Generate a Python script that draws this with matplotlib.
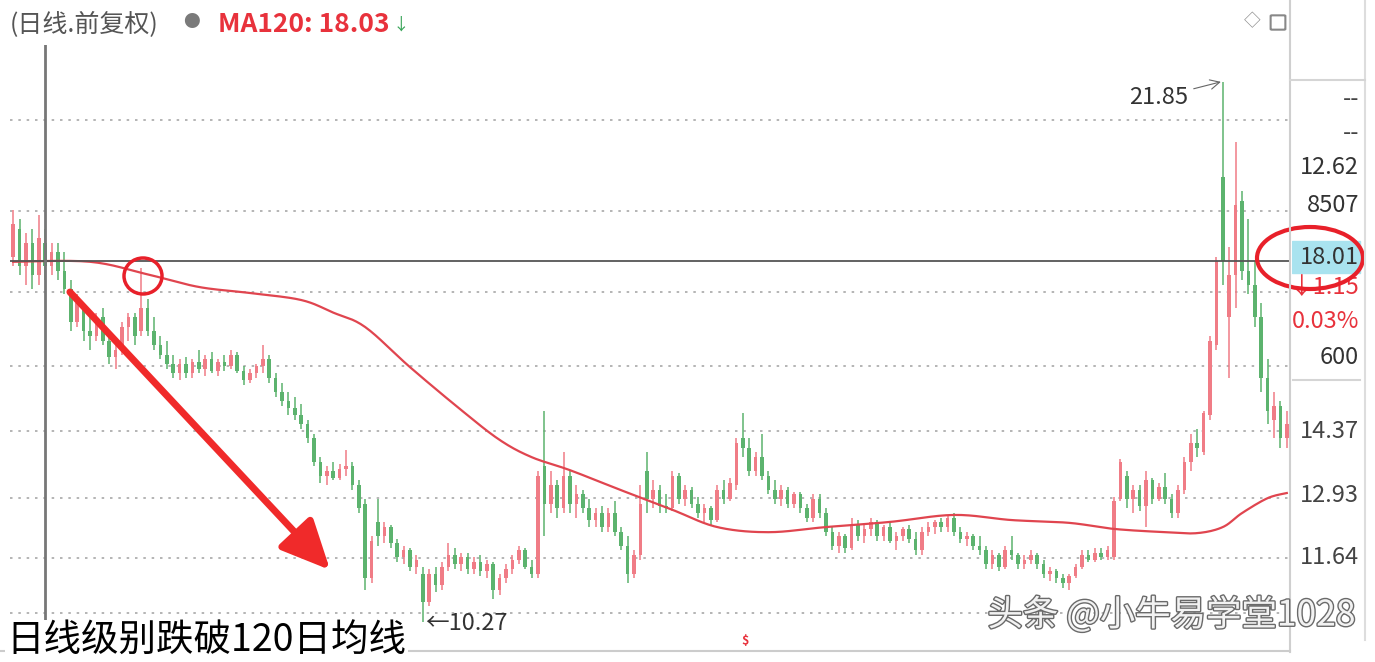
import numpy as np
import matplotlib.pyplot as plt
import matplotlib.patheffects as pe
from matplotlib.patches import Ellipse, Rectangle, FancyBboxPatch
from matplotlib.lines import Line2D

plt.rcParams['font.family'] = ['Noto Sans CJK SC', 'DejaVu Sans']

# daily candles (price, forward adjusted)
opens = [
    18.10, 18.70, 17.90, 18.40, 17.70, 18.40, 17.90, 18.20, 17.80, 17.40,
    16.70, 17.00, 16.50, 16.40, 16.80, 16.30, 15.95, 16.10, 16.60, 16.80,
    16.50, 17.00, 16.50, 16.20, 16.00, 15.80, 15.60, 15.80, 15.60, 15.85,
    15.70, 15.90, 15.65, 15.85, 15.75, 16.00, 15.65, 15.45, 15.60, 15.75,
    15.90, 15.50, 15.20, 15.00, 14.85, 14.70, 14.50, 14.20, 13.70, 13.40,
    13.50, 13.35, 13.55, 13.60, 13.20, 12.80, 11.20, 12.40, 12.10, 12.30,
    11.95, 11.65, 11.80, 11.45, 11.30, 10.70, 11.30, 11.05, 11.45, 11.70,
    11.50, 11.65, 11.40, 11.55, 11.35, 11.50, 10.95, 11.20, 11.40, 11.60,
    11.80, 11.45, 11.30, 13.60, 12.80, 13.20, 12.70, 13.40, 12.80, 13.00,
    12.70, 12.45, 12.60, 12.30, 12.60, 12.20, 11.90, 11.30, 11.70, 13.50,
    12.90, 13.10, 12.75, 12.70, 13.40, 12.90, 13.10, 12.80, 12.60, 12.70,
    12.45, 13.10, 12.90, 13.20, 14.20, 14.00, 13.50, 13.80, 13.40, 13.10,
    12.90, 13.10, 12.80, 13.00, 12.70, 12.50, 12.90, 12.60, 12.20, 11.90,
    12.10, 11.85, 12.35, 12.10, 12.25, 12.40, 12.10, 12.30, 12.00, 12.10,
    12.25, 12.05, 11.80, 12.20, 12.30, 12.40, 12.30, 12.50, 12.20, 12.05,
    12.10, 11.90, 11.80, 11.50, 11.70, 11.45, 11.80, 11.70, 11.50, 11.60,
    11.70, 11.50, 11.30, 11.35, 11.20, 11.10, 11.25, 11.45, 11.70, 11.60,
    11.75, 11.65, 11.65, 12.90, 13.40, 12.90, 13.10, 12.75, 13.30, 12.90,
    13.15, 12.90, 12.60, 13.10, 13.70, 14.10, 13.90, 14.70, 16.20, 19.80,
    16.80, 17.70, 19.30, 17.80, 17.50, 16.80, 15.50, 14.60, 14.90, 14.20,
]
highs = [
    19.10, 18.90, 18.60, 18.70, 19.00, 18.70, 18.40, 18.40, 18.20, 17.60,
    17.30, 17.10, 16.80, 16.90, 17.00, 16.50, 16.20, 16.70, 16.90, 16.90,
    17.85, 17.20, 16.80, 16.40, 16.30, 16.00, 15.90, 15.95, 15.90, 16.10,
    16.00, 16.05, 15.90, 16.00, 16.10, 16.05, 15.75, 15.70, 15.80, 16.20,
    16.00, 15.60, 15.40, 15.20, 15.10, 14.95, 14.60, 14.30, 13.80, 13.60,
    13.70, 13.65, 13.95, 13.70, 13.30, 12.90, 12.10, 12.90, 12.40, 12.35,
    12.05, 11.90, 11.85, 11.70, 11.45, 11.40, 11.45, 11.55, 11.95, 11.85,
    11.75, 11.75, 11.65, 11.70, 11.60, 11.55, 11.30, 11.50, 11.70, 11.90,
    11.85, 11.60, 13.50, 14.80, 13.50, 13.30, 13.90, 13.50, 13.20, 13.10,
    12.90, 12.70, 12.75, 12.70, 12.85, 12.30, 12.10, 11.80, 13.20, 13.90,
    13.30, 13.20, 13.00, 13.50, 13.45, 13.20, 13.15, 12.95, 12.80, 12.75,
    13.20, 13.30, 13.35, 14.20, 14.75, 14.20, 13.90, 14.30, 13.50, 13.30,
    13.20, 13.15, 13.05, 13.05, 12.80, 13.00, 13.00, 12.70, 12.30, 12.20,
    12.15, 12.50, 12.45, 12.35, 12.50, 12.45, 12.35, 12.40, 12.20, 12.30,
    12.35, 12.20, 12.30, 12.40, 12.45, 12.50, 12.55, 12.60, 12.30, 12.20,
    12.15, 12.10, 11.90, 11.80, 11.75, 11.90, 12.10, 11.75, 11.70, 11.80,
    11.75, 11.60, 11.45, 11.40, 11.30, 11.30, 11.50, 11.80, 11.80, 11.85,
    11.85, 11.90, 12.95, 13.75, 13.50, 13.20, 13.20, 13.50, 13.35, 13.25,
    13.45, 13.00, 13.20, 13.80, 14.30, 14.40, 14.80, 16.40, 18.10, 21.85,
    18.30, 20.55, 19.50, 18.90, 18.00, 17.10, 15.90, 15.20, 15.00, 14.80,
]
lows = [
    17.90, 17.70, 17.50, 17.40, 17.50, 17.60, 17.70, 17.60, 17.30, 16.50,
    16.60, 16.30, 16.10, 16.30, 16.20, 15.80, 15.70, 16.00, 16.30, 16.20,
    16.40, 16.40, 16.10, 15.90, 15.70, 15.50, 15.45, 15.50, 15.50, 15.60,
    15.55, 15.60, 15.55, 15.65, 15.70, 15.60, 15.35, 15.40, 15.50, 15.60,
    15.40, 15.10, 14.90, 14.70, 14.60, 14.40, 14.10, 13.60, 13.25, 13.20,
    13.30, 13.30, 13.40, 13.10, 12.60, 10.95, 11.10, 11.90, 11.95, 11.85,
    11.55, 11.50, 11.35, 11.30, 10.27, 10.60, 10.90, 10.95, 11.35, 11.40,
    11.35, 11.30, 11.30, 11.25, 11.20, 10.75, 10.85, 11.10, 11.30, 11.50,
    11.40, 11.20, 11.20, 12.10, 12.60, 12.50, 12.60, 12.60, 12.50, 12.60,
    12.30, 12.30, 12.20, 12.20, 12.10, 11.80, 11.10, 11.20, 11.60, 12.60,
    12.70, 12.60, 12.60, 12.65, 12.80, 12.75, 12.70, 12.50, 12.40, 12.35,
    12.40, 12.80, 12.85, 13.10, 13.80, 13.40, 13.40, 13.30, 13.00, 12.80,
    12.75, 12.70, 12.70, 12.60, 12.40, 12.40, 12.50, 12.10, 11.80, 11.75,
    11.75, 11.80, 12.00, 11.95, 12.10, 12.00, 12.00, 11.95, 11.80, 12.00,
    11.95, 11.70, 11.70, 12.10, 12.15, 12.20, 12.20, 12.10, 11.95, 11.90,
    11.80, 11.70, 11.40, 11.40, 11.35, 11.40, 11.60, 11.40, 11.40, 11.50,
    11.40, 11.20, 11.15, 11.10, 11.00, 10.95, 11.20, 11.40, 11.55, 11.55,
    11.60, 11.60, 11.60, 12.85, 12.70, 12.60, 12.65, 12.30, 12.80, 12.85,
    12.80, 12.50, 12.50, 13.00, 13.50, 13.80, 13.85, 14.60, 16.10, 17.50,
    15.50, 17.00, 17.60, 17.30, 16.60, 15.20, 14.50, 14.20, 14.00, 14.00,
]
closes = [
    18.80, 17.90, 18.40, 17.70, 18.50, 17.90, 18.20, 17.80, 17.40, 16.70,
    17.10, 16.50, 16.40, 16.80, 16.30, 15.95, 16.10, 16.60, 16.80, 16.40,
    17.00, 16.50, 16.20, 16.00, 15.80, 15.60, 15.80, 15.60, 15.85, 15.70,
    15.90, 15.65, 15.85, 15.75, 16.00, 15.65, 15.45, 15.60, 15.75, 15.90,
    15.50, 15.20, 15.00, 14.85, 14.70, 14.50, 14.20, 13.70, 13.40, 13.50,
    13.35, 13.55, 13.60, 13.20, 12.70, 11.20, 12.00, 12.10, 12.30, 11.95,
    11.65, 11.80, 11.45, 11.60, 10.70, 11.30, 11.05, 11.45, 11.70, 11.50,
    11.65, 11.40, 11.55, 11.35, 11.50, 10.95, 11.20, 11.40, 11.60, 11.80,
    11.45, 11.30, 13.40, 12.80, 13.20, 12.70, 13.40, 12.80, 13.00, 12.70,
    12.45, 12.60, 12.30, 12.60, 12.20, 11.90, 11.30, 11.70, 12.80, 12.90,
    13.10, 12.75, 12.70, 13.40, 12.90, 13.10, 12.80, 12.60, 12.70, 12.45,
    13.10, 12.90, 13.25, 14.10, 14.00, 13.50, 13.80, 13.40, 13.10, 12.90,
    13.10, 12.80, 13.00, 12.70, 12.50, 12.90, 12.60, 12.20, 11.90, 12.10,
    11.85, 12.35, 12.10, 12.25, 12.40, 12.10, 12.30, 12.00, 12.10, 12.25,
    12.05, 11.80, 12.20, 12.30, 12.40, 12.30, 12.50, 12.20, 12.05, 12.10,
    11.90, 11.80, 11.50, 11.70, 11.45, 11.80, 11.70, 11.50, 11.60, 11.70,
    11.50, 11.30, 11.35, 11.20, 11.10, 11.25, 11.45, 11.70, 11.60, 11.75,
    11.65, 11.80, 12.85, 13.70, 12.90, 13.10, 12.75, 13.30, 12.90, 13.15,
    12.90, 12.60, 13.10, 13.70, 14.10, 14.00, 14.75, 16.30, 18.00, 18.00,
    17.70, 19.20, 17.80, 17.50, 16.80, 15.50, 14.80, 14.90, 14.20, 14.50,
]

# MA120 read at some candle positions
ma_idx = [0, 12, 21, 29, 37, 45, 50, 55, 62, 70, 76, 81, 87, 95, 103, 110,
          118, 127, 137, 147, 156, 165, 172, 180, 185, 189, 192, 196, 199]
ma_val = [17.99, 17.99, 17.72, 17.45, 17.32, 17.17, 16.90, 16.59, 15.73, 14.81,
          14.17, 13.80, 13.52, 13.09, 12.67, 12.30, 12.19, 12.30, 12.41, 12.56,
          12.45, 12.39, 12.26, 12.19, 12.17, 12.30, 12.60, 12.92, 13.03]

grid_levels = [21.03, 19.08, 17.34, 15.76, 14.37, 12.93, 11.64, 10.45]
cross_price = 18.01
cross_idx = 5

# right info panel: (text, y pixel, colour)
panel_rows = [('--', 100, '#444444'), ('--', 133, '#444444'), ('12.62', 168, '#333333'),
              ('8507', 205, '#333333'), ('↓1.15', 288, '#e8323c'), ('0.03%', 322, '#e8323c'),
              ('600', 357, '#333333'), ('14.37', 432, '#444444'), ('12.93', 495, '#444444'),
              ('11.64', 558, '#444444')]

W, H = 1375, 662
fig = plt.figure(figsize=(W / 100, H / 100), dpi=100)
fig.patch.set_facecolor('white')


def fx(x):
    return x / W


def fy(y):
    return 1 - y / H


def catmull(xs, ys, n=16):
    # smooth curve through the read points (drawing only)
    px = np.r_[xs[0], xs, xs[-1]].astype(float)
    py = np.r_[ys[0], ys, ys[-1]].astype(float)
    outx, outy = [], []
    t = np.linspace(0, 1, n, endpoint=False)
    for k in range(1, len(px) - 2):
        for arr, out in ((px, outx), (py, outy)):
            p0, p1, p2, p3 = arr[k - 1], arr[k], arr[k + 1], arr[k + 2]
            out.extend(0.5 * (2 * p1 + (-p0 + p2) * t + (2 * p0 - 5 * p1 + 4 * p2 - p3) * t ** 2
                              + (-p0 + 3 * p1 - 3 * p2 + p3) * t ** 3))
    outx.append(xs[-1])
    outy.append(ys[-1])
    return outx, outy


# main chart
ax = fig.add_axes([fx(10), fy(652), fx(1290) - fx(10), fy(45) - fy(652)])
ax.set_xlim(-0.5, 199.5)
ax.set_ylim(9.62, 22.64)
ax.axis('off')

for g in grid_levels:
    ax.axhline(g, color='#a8a8a8', lw=1.2, ls=(0, (1.5, 3.5)), zorder=0)

o = np.array(opens)
hi = np.array(highs)
lo = np.array(lows)
c = np.array(closes)
idx = np.arange(len(c))
cols = np.where(c >= o, '#f07c86', '#5cb36e')

ax.vlines(idx, lo, hi, colors=cols, lw=1.1, zorder=2)
ax.bar(idx, np.maximum(np.abs(c - o), 0.04), bottom=np.minimum(o, c), width=0.55,
       color=cols, zorder=3)

mx, my = catmull(ma_idx, ma_val)
ax.plot(mx, my, color='#e0454f', lw=1.6, zorder=4)

ax.axhline(cross_price, color='#555555', lw=1.3, zorder=5)
ax.axvline(cross_idx, color='#777777', lw=2, zorder=5)

ax.annotate('21.85', xy=(188.7, 21.85), xytext=(183.6, 21.51), ha='right', va='center',
            fontsize=17, color='#333333',
            arrowprops=dict(arrowstyle='->', color='#666666', lw=0.8, shrinkA=2, shrinkB=0))
ax.text(64.4, 10.24, '←10.27', ha='left', va='center', fontsize=17, color='#333333')

# red marks drawn on the screenshot
fig.add_artist(Ellipse((fx(143), fy(276)), 38 / W, 36 / H, transform=fig.transFigure,
                       fill=False, ec='#e8202a', lw=2.5))
fig.add_artist(Ellipse((fx(1310), fy(258)), 106 / W, 62 / H, transform=fig.transFigure,
                       fill=False, ec='#e8202a', lw=3))
ax.annotate('', xy=(332, H - 572), xytext=(68, H - 290),
            xycoords='figure pixels', textcoords='figure pixels',
            arrowprops=dict(arrowstyle='-|>,head_length=1.5,head_width=0.7',
                            mutation_scale=20, lw=5, color='#f02a2a'))

# right panel
rp = fig.add_axes([fx(1292), fy(650), fx(1366) - fx(1292), fy(0) - fy(650)])
rp.set_xlim(1292, 1366)
rp.set_ylim(650, 0)
rp.axis('off')
rp.add_patch(Rectangle((1292, 241), 68, 32, color='#a9e3ef', zorder=0))
rp.text(1359, 257, '18.01', ha='right', va='center', fontsize=17, color='#333333', clip_on=True)
for txt, yy, col in panel_rows:
    rp.text(1359, yy, txt, ha='right', va='center', fontsize=17, color=col, clip_on=True)

for xs, ys, col in [([1290, 1290], [0, 652], '#cfcfcf'), ([1365, 1365], [0, 640], '#dddddd'),
                    ([1290, 1365], [80, 80], '#d5d5d5'), ([1293, 1360], [380, 380], '#d5d5d5'),
                    ([0, 1290], [651, 651], '#cccccc')]:
    fig.add_artist(Line2D([fx(v) for v in xs], [fy(v) for v in ys],
                          transform=fig.transFigure, color=col, lw=1.5))

# header
fig.text(fx(10), fy(25), '(日线.前复权)', fontsize=18, color='#555555', va='center')
fig.text(fx(191), fy(23), '●', fontsize=12, color='#7a7a7a', va='center', ha='center')
fig.text(fx(218), fy(25), 'MA120: 18.03', fontsize=19, color='#e8323c', va='center',
         weight='bold')
fig.text(fx(393), fy(25), '↓', fontsize=12, color='#3aa55a', va='center')
fig.text(fx(1252), fy(22), '◇', fontsize=12, color='#888888', va='center', ha='center')
fig.add_artist(FancyBboxPatch((fx(1272), fy(29)), 12 / W, 13 / H, transform=fig.transFigure,
                              boxstyle='round,pad=0.001', fill=False, ec='#888888', lw=1.5))

fig.text(fx(745), fy(640), '$', fontsize=9, color='#e8323c', weight='bold',
         ha='center', va='center')

fig.text(fx(1355), fy(615), '头条 @小牛易学堂1028', ha='right', va='center', fontsize=25.5,
         color='#f2f2f2', path_effects=[pe.withStroke(linewidth=2, foreground='#6a6a6a')])
fig.text(fx(6), fy(641), '日线级别跌破120日均线', fontsize=27, color='black', va='center',
         bbox=dict(facecolor='white', edgecolor='none', pad=1))

fig.savefig('out.png', dpi=100, facecolor='white')
